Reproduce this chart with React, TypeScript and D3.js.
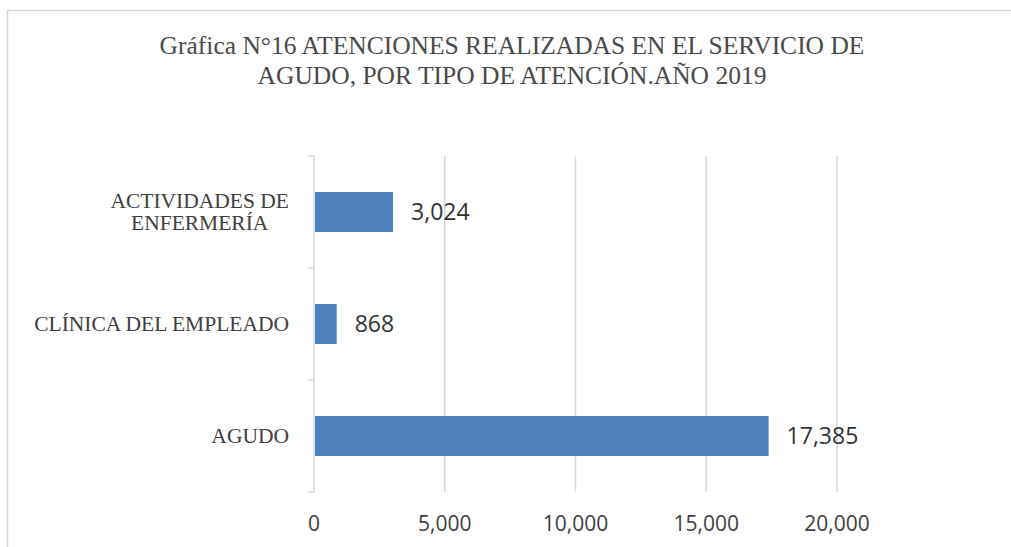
import { useEffect, useRef } from "react";
import * as d3 from "d3";

// chart data, top to bottom as shown
const categories = ["ACTIVIDADES DE\nENFERMERÍA", "CLÍNICA DEL EMPLEADO", "AGUDO"];
const values = [3024, 868, 17385];
const xTicks = [0, 5000, 10000, 15000, 20000];
const titleLines = [
  "Gráfica N°16 ATENCIONES REALIZADAS EN EL SERVICIO DE",
  "AGUDO, POR TIPO DE ATENCIÓN.AÑO 2019",
];

const width = 1011;
const height = 547;
const plot = { left: 314, right: 837, top: 156, bottom: 492 };

const serif = "'Liberation Serif', 'Times New Roman', serif";
const sans = "'Open Sans', 'Noto Sans', sans-serif";
const gridColor = "#d9d9d9";
const textColor = "#404040";
const barColor = "#4f81bd";

const fmt = d3.format(",");

const drawChart = (node: SVGSVGElement) => {
  const svg = d3.select(node);
  svg.selectAll("*").remove();

  // outer chart frame (runs past the right and bottom edges)
  svg.append("path")
    .attr("d", `M7.5,${height + 5} V10.5 H${width + 5}`)
    .attr("fill", "none")
    .attr("stroke", gridColor)
    .attr("stroke-width", 1.5);

  // title, one text per line
  svg.append("g")
    .attr("font-family", serif)
    .attr("font-size", 25.5)
    .attr("fill", "#4a4a4a")
    .attr("text-anchor", "middle")
    .selectAll("text")
    .data(titleLines)
    .join("text")
      .attr("x", 512)
      .attr("y", (_, i) => 54 + i * 30)
      .text(d => d);

  const x = d3.scaleLinear()
    .domain([0, 20000])
    .range([plot.left, plot.right]);

  const y = d3.scaleBand()
    .domain(categories)
    .range([plot.top, plot.bottom])
    .paddingInner(0.643)
    .paddingOuter(0.3215);

  const step = y.step();

  // vertical gridlines
  svg.append("g")
    .selectAll("line")
    .data(xTicks.slice(1))
    .join("line")
      .attr("x1", d => x(d))
      .attr("x2", d => x(d))
      .attr("y1", plot.top)
      .attr("y2", plot.bottom)
      .attr("stroke", gridColor)
      .attr("stroke-width", 1.5);

  // category axis line + ticks between bands
  svg.append("line")
    .attr("x1", plot.left)
    .attr("x2", plot.left)
    .attr("y1", plot.top)
    .attr("y2", plot.bottom)
    .attr("stroke", gridColor)
    .attr("stroke-width", 1.5);

  const boundaries = d3.range(categories.length + 1).map(i => plot.top + i * step);
  svg.append("g")
    .selectAll("line")
    .data(boundaries)
    .join("line")
      .attr("x1", plot.left - 6)
      .attr("x2", plot.left)
      .attr("y1", d => d)
      .attr("y2", d => d)
      .attr("stroke", gridColor)
      .attr("stroke-width", 1.5);

  // bars
  svg.append("g")
    .selectAll("rect")
    .data(values)
    .join("rect")
      .attr("x", x(0) + 1)
      .attr("y", (_, i) => y(categories[i]) as number)
      .attr("width", d => x(d) - x(0) - 1)
      .attr("height", y.bandwidth())
      .attr("fill", barColor);

  // value labels
  svg.append("g")
    .attr("font-family", sans)
    .attr("font-size", 23)
    .attr("fill", "#333333")
    .selectAll("text")
    .data(values)
    .join("text")
      .attr("x", d => x(d) + 18)
      .attr("y", (_, i) => (y(categories[i]) as number) + y.bandwidth() / 2)
      .attr("dy", "0.36em")
      .text(d => fmt(d));

  // x tick labels
  svg.append("g")
    .attr("font-family", sans)
    .attr("font-size", 21)
    .attr("fill", textColor)
    .attr("text-anchor", "middle")
    .selectAll("text")
    .data(xTicks)
    .join("text")
      .attr("x", d => x(d))
      .attr("y", 531)
      .text(d => fmt(d));

  // category labels: block right-aligned, lines centred within the block
  const catG = svg.append("g")
    .attr("font-family", serif)
    .attr("font-size", 21.5)
    .attr("fill", textColor);

  categories.forEach(cat => {
    const lines = cat.split("\n");
    const cy = (y(cat) as number) + y.bandwidth() / 2;
    const lineH = 22.5;
    const t = catG.append("text").attr("text-anchor", "middle");
    const spans = lines.map((line, i) =>
      t.append("tspan")
        .attr("y", cy + (i - (lines.length - 1) / 2) * lineH)
        .attr("dy", "0.33em")
        .text(line));
    const maxW = d3.max(spans, s => (s.node() as SVGTSpanElement).getComputedTextLength()) || 0;
    spans.forEach(s => s.attr("x", 289 - maxW / 2));
  });
};

export default function App() {
  const ref = useRef<SVGSVGElement>(null);

  useEffect(() => {
    if (ref.current) drawChart(ref.current);
  }, []);

  return (
    <svg
      ref={ref}
      width={width}
      height={height}
      style={{ position: "absolute", left: 0, top: 0, background: "#fff" }}
    />
  );
}
